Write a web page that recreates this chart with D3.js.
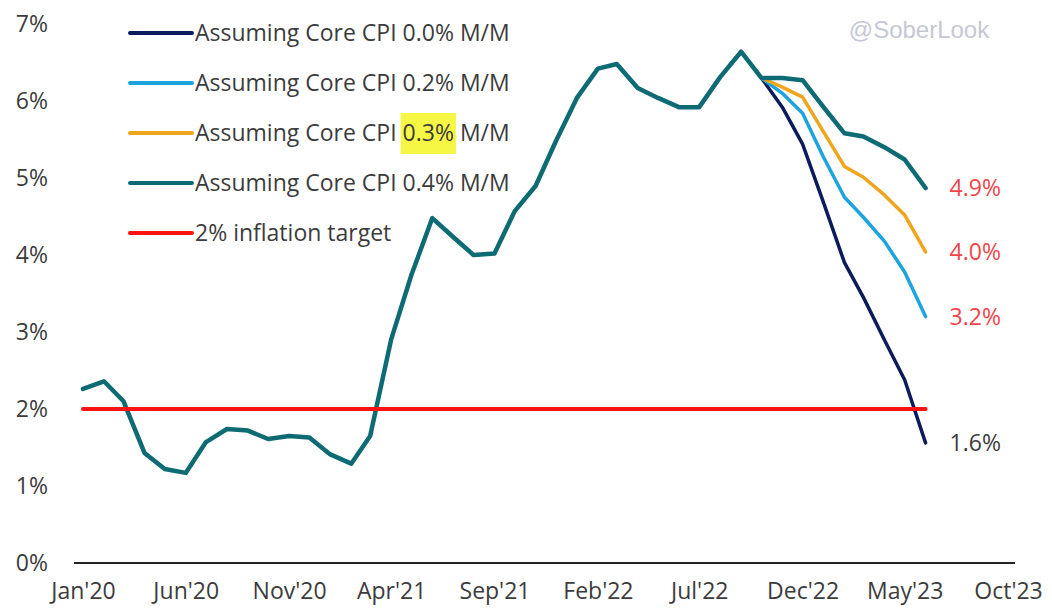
<!DOCTYPE html>
<html>
<head>
<meta charset="utf-8">
<script src="https://cdn.jsdelivr.net/npm/d3@7"></script>
<style>
  body { margin: 0; background: #fff; }
  svg { display: block; font-family: "Open Sans", sans-serif; }
</style>
</head>
<body>
<svg id="chart"></svg>
<script>
// core CPI y/y, Jan'20 .. Oct'22 (actual)
const actualStart = new Date(2020, 0, 1)
const actual = [2.26, 2.36, 2.1, 1.43, 1.22, 1.17, 1.57, 1.74, 1.72, 1.61, 1.65, 1.63,
  1.41, 1.29, 1.65, 2.9, 3.74, 4.48, 4.24, 4.0, 4.02, 4.57, 4.9, 5.48,
  6.04, 6.42, 6.48, 6.17, 6.04, 5.92, 5.92, 6.31, 6.64, 6.3]

// projections Nov'22 .. Jun'23
const proj00 = [5.92, 5.44, 4.68, 3.9, 3.45, 2.9, 2.38, 1.56]
const proj02 = [6.1, 5.84, 5.27, 4.75, 4.49, 4.18, 3.78, 3.2]
const proj03 = [6.18, 6.05, 5.6, 5.15, 5.01, 4.78, 4.52, 4.04]
const proj04 = [6.3, 6.27, 5.92, 5.58, 5.54, 5.4, 5.24, 4.87]

const endLabels = ['1.6%', '3.2%', '4.0%', '4.9%']
const legendLabels = ['Assuming Core CPI 0.0% M/M', 'Assuming Core CPI 0.2% M/M',
  'Assuming Core CPI 0.3% M/M', 'Assuming Core CPI 0.4% M/M', '2% inflation target']
const yTicks = [0, 1, 2, 3, 4, 5, 6, 7]
const xTickLabels = ["Jan'20", "Jun'20", "Nov'20", "Apr'21", "Sep'21", "Feb'22", "Jul'22", "Dec'22", "May'23", "Oct'23"]
const target = 2

const colors = {
  navy: '#0b1b5c',
  light: '#1ca4e0',
  orange: '#efa51c',
  teal: '#0f6b73',
  red: '#fb1313',
  text: '#3c3c3c',
  endRed: '#f0454a'
}
const fontSize = '23px'

const width = 1052, height = 610
const svg = d3.select('#chart').attr('width', width).attr('height', height)

const month = i => d3.timeMonth.offset(actualStart, i)
const lastMonth = month(actual.length - 1 + proj04.length)

const x = d3.scaleTime()
  .domain([actualStart, month(45)])
  .range([83, 1008])
const y = d3.scaleLinear()
  .domain([0, 7])
  .range([563, 24])

// y labels
svg.append('g')
  .selectAll('text')
  .data(yTicks)
  .join('text')
  .attr('x', 48)
  .attr('y', d => y(d))
  .attr('dy', '0.35em')
  .attr('text-anchor', 'end')
  .attr('fill', colors.text)
  .style('font-size', fontSize)
  .text(d => d + '%')

// x axis
const xAxis = d3.axisBottom(x)
  .tickValues(xTickLabels.map((d, i) => month(i * 5)))
  .tickSize(0)
  .tickPadding(20)
  .tickFormat((d, i) => xTickLabels[i])
const gx = svg.append('g')
  .attr('transform', `translate(0, ${y(0)})`)
  .call(xAxis)
gx.select('.domain').remove()
gx.selectAll('text')
  .attr('fill', colors.text)
  .style('font-size', fontSize)
  .style('font-family', '"Open Sans", sans-serif')
svg.append('line')
  .attr('x1', x(actualStart) - 9)
  .attr('x2', x(month(45)) + 7)
  .attr('y1', y(0))
  .attr('y2', y(0))
  .attr('stroke', '#222')
  .attr('stroke-width', 2)

const line = d3.line()
  .x(d => x(d.date))
  .y(d => y(d.value))

const toPoints = (values, offset) => values.map((v, i) => ({date: month(offset + i), value: v}))
const lastActual = actual.length - 1
const projSeries = [
  {values: proj00, color: colors.navy, width: 3.5},
  {values: proj02, color: colors.light, width: 3.5},
  {values: proj03, color: colors.orange, width: 3.5}
]

svg.append('g')
  .selectAll('path')
  .data(projSeries)
  .join('path')
  .attr('d', d => line(toPoints([actual[lastActual], ...d.values], lastActual)))
  .attr('fill', 'none')
  .attr('stroke', d => d.color)
  .attr('stroke-width', d => d.width)
  .attr('stroke-linejoin', 'round')
  .attr('stroke-linecap', 'round')

svg.append('path')
  .attr('d', line(toPoints([...actual, ...proj04], 0)))
  .attr('fill', 'none')
  .attr('stroke', colors.teal)
  .attr('stroke-width', 4.5)
  .attr('stroke-linejoin', 'round')
  .attr('stroke-linecap', 'round')

// 2% target
svg.append('line')
  .attr('x1', x(actualStart))
  .attr('x2', x(lastMonth))
  .attr('y1', y(target))
  .attr('y2', y(target))
  .attr('stroke', colors.red)
  .attr('stroke-width', 4)
  .attr('stroke-linecap', 'round')

// end labels
const endValues = [proj00, proj02, proj03, proj04].map(d => d[d.length - 1])
svg.append('g')
  .selectAll('text')
  .data(endValues)
  .join('text')
  .attr('x', x(lastMonth) + 24)
  .attr('y', d => y(d))
  .attr('dy', '0.35em')
  .attr('fill', (d, i) => i === 0 ? colors.text : colors.endRed)
  .style('font-size', fontSize)
  .text((d, i) => endLabels[i])

// legend
const legendColors = [colors.navy, colors.light, colors.orange, colors.teal, colors.red]
const legend = svg.append('g')
  .selectAll('g')
  .data(legendLabels)
  .join('g')
  .attr('transform', (d, i) => `translate(130, ${33 + i * 50})`)
legend.append('line')
  .attr('x2', 62)
  .attr('stroke', (d, i) => legendColors[i])
  .attr('stroke-width', 4)
  .attr('stroke-linecap', 'round')
legend.append('text')
  .attr('x', 65)
  .attr('dy', '0.35em')
  .attr('fill', colors.text)
  .style('font-size', fontSize)
  .text(d => d)

// highlight on "0.3%"
legend.filter((d, i) => i === 2).each(function(d) {
  const g = d3.select(this)
  const t = g.select('text').node()
  const start = d.indexOf('0.3%')
  const x0 = 65 + t.getSubStringLength(0, start)
  const w = t.getSubStringLength(start, 4)
  g.insert('rect', 'text')
    .attr('x', x0 - 2)
    .attr('y', -20)
    .attr('width', w + 4)
    .attr('height', 41)
    .attr('fill', '#f6f645')
})

// watermark
svg.append('text')
  .attr('x', 919)
  .attr('y', 30)
  .attr('dy', '0.35em')
  .attr('text-anchor', 'middle')
  .attr('fill', '#c6c7d6')
  .style('font-family', '"Liberation Sans", Arial, sans-serif')
  .style('font-size', '24px')
  .text('@SoberLook')
</script>
</body>
</html>
